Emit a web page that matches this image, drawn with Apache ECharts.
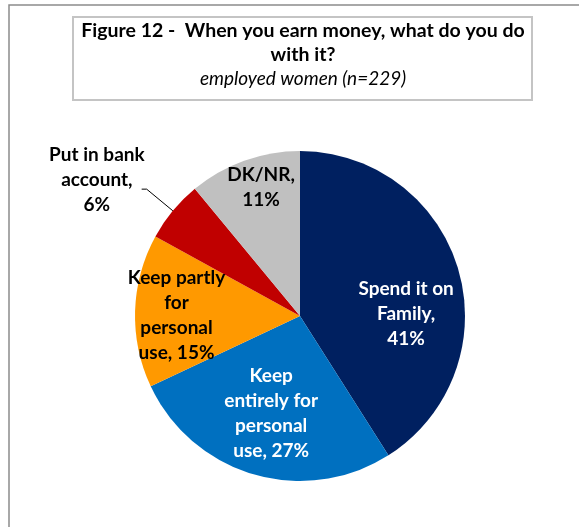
<!DOCTYPE html>
<html>
<head>
<meta charset="utf-8">
<script src="https://cdn.jsdelivr.net/npm/echarts@6/dist/echarts.min.js"></script>
<style>
  html, body { margin: 0; padding: 0; background: #fff; }
  #chart { width: 579px; height: 527px; }
</style>
</head>
<body>
<div id="chart"></div>
<script>
  // data
  var categories = ['Spend it on Family', 'Keep entirely for personal use', 'Keep partly for personal use', 'Put in bank account', 'DK/NR'];
  var shares = [41, 27, 15, 6, 11];
  var labelTemplates = [
    'Spend it on\nFamily,\n{v}%',
    'Keep\nentirely for\npersonal\nuse, {v}%',
    'Keep partly\nfor\npersonal\nuse, {v}%',
    'Put in bank\naccount,\n{v}%',
    'DK/NR,\n{v}%'
  ];
  var titleText = 'Figure 12 -  When you earn money, what do you do\nwith it?';
  var subtitleText = 'employed women (n=229)';

  var FONT = 'Lato';
  // nudges so the labels sit where Excel put them
  var nudges = [[24, 22], [-5, 15], [-38, 2], [5, -9], [-10, -48]];
  var darkLabel = [false, false, true, true, true];

  var pieData = categories.map(function (name, i) {
    var item = { name: name, value: shares[i] };
    if (i === 3) {
      item.label = {
        position: 'outside',
        color: '#000',
        distanceToLabelLine: 2,
        formatter: function () {
          return labelTemplates[3].replace('{v}', shares[3]).split('\n').map(function (s) { return '{c|' + s + '}'; }).join('\n');
        },
        rich: { c: { align: 'center', fontFamily: FONT, fontWeight: 'bold', fontSize: 19, lineHeight: 25, color: '#000' } }
      };
      item.labelLine = { show: true, length: 34, length2: 5, lineStyle: { color: '#000', width: 1 } };
    } else {
      item.label = { color: darkLabel[i] ? '#000' : '#fff' };
    }
    return item;
  });

  var myChart = echarts.init(document.getElementById('chart'));
  myChart.setOption({
    animation: false,
    color: ['#002060', '#0070C0', '#FF9900', '#C00000', '#C0C0C0'],
    graphic: [
      { type: 'rect', shape: { x: 9, y: 5, width: 620, height: 620 }, style: { fill: null, stroke: '#8c8c8c', lineWidth: 1.5 }, silent: true },
      { type: 'rect', shape: { x: 73, y: 17, width: 459, height: 83 }, style: { fill: '#fff', stroke: '#c4c4c4', lineWidth: 2 }, silent: true, z: -1 }
    ],
    title: {
      text: titleText,
      subtext: subtitleText,
      left: 303,
      textAlign: 'center',
      top: 19,
      padding: 0,
      itemGap: 0,
      textStyle: { fontFamily: FONT, fontWeight: 'bold', fontSize: 19.5, lineHeight: 24, color: '#000' },
      subtextStyle: { fontFamily: FONT, fontStyle: 'italic', fontSize: 19, lineHeight: 24, color: '#000' }
    },
    series: [{
      type: 'pie',
      center: [300, 316],
      radius: 165,
      startAngle: 90,
      clockwise: true,
      avoidLabelOverlap: false,
      emphasis: { disabled: true },
      label: {
        show: true,
        position: 'inside',
        fontFamily: FONT,
        fontWeight: 'bold',
        fontSize: 19,
        lineHeight: 25,
        align: 'center',
        formatter: function (p) {
          return labelTemplates[p.dataIndex].replace('{v}', p.value);
        }
      },
      labelLayout: function (p) {
        var n = nudges[p.dataIndex];
        return { dx: n[0], dy: n[1] };
      },
      data: pieData
    }]
  });
</script>
</body>
</html>
